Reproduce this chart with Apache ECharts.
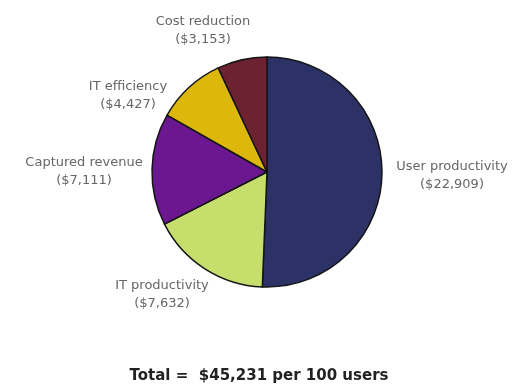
<!DOCTYPE html>
<html>
<head>
<meta charset="utf-8">
<script src="https://cdn.jsdelivr.net/npm/echarts@6/dist/echarts.min.js"></script>
<style>html,body{margin:0;padding:0;background:#fff;}#c{width:518px;height:390px;}</style>
</head>
<body>
<div id="c"></div>
<script>
var categories = ['User productivity', 'IT productivity', 'Captured revenue', 'IT efficiency', 'Cost reduction'];
var values = [22909, 7632, 7111, 4427, 3153];
var valueLabels = ['$22,909', '$7,632', '$7,111', '$4,427', '$3,153'];
var totalText = 'Total =  $45,231 per 100 users';

var colors = ['#2C3266', '#C6DF6C', '#6A1790', '#DDB80C', '#6C2231'];
// label anchor positions (text layout only)
var labelPos = [[452, 176], [162, 295], [84, 172], [128, 96], [203, 31]];

var chart = echarts.init(document.getElementById('c'), null, {renderer: 'canvas'});
chart.setOption({
  animation: false,
  backgroundColor: '#fff',
  color: colors,
  title: {
    text: totalText,
    left: 'center',
    top: 364,
    textStyle: {fontFamily: 'DejaVu Sans', fontSize: 15, fontWeight: 'bold', color: '#222'}
  },
  series: [{
    type: 'pie',
    center: [267, 172],
    radius: 115,
    startAngle: 90,
    clockwise: true,
    data: categories.map(function (c, i) { return {name: c, value: values[i]}; }),
    itemStyle: {borderColor: '#151515', borderWidth: 1.5},
    label: {
      show: true,
      position: 'outside',
      alignTo: 'none',
      overflow: 'none',
      formatter: function (p) { return p.name + '\n(' + valueLabels[p.dataIndex] + ')'; },
      fontFamily: 'DejaVu Sans',
      fontSize: 13,
      lineHeight: 18,
      color: '#666',
      align: 'center'
    },
    labelLine: {show: false},
    labelLayout: function (p) {
      var lp = labelPos[p.dataIndex];
      return {x: lp[0], y: lp[1], align: 'center', verticalAlign: 'middle', hideOverlap: false};
    },
    emphasis: {disabled: true}
  }]
});
</script>
</body>
</html>
